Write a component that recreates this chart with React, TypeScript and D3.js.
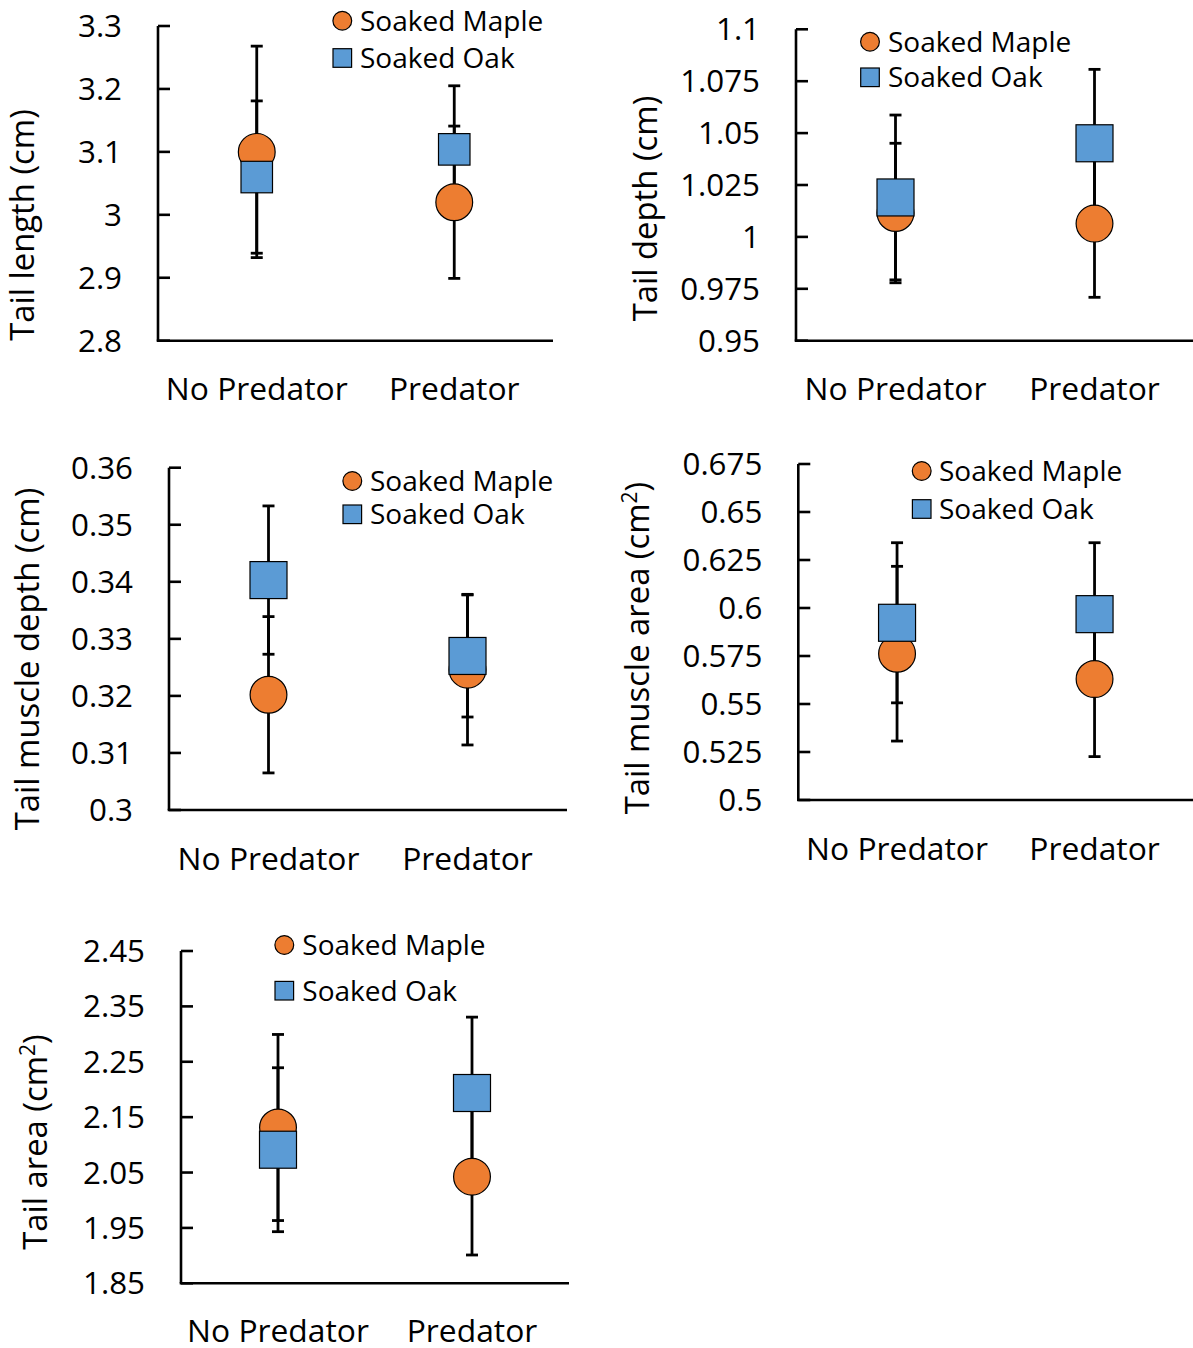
import React from "react";
import * as d3 from "d3";

// Treatment groups on the x axis
const categories = ["No Predator", "Predator"];

// Series names
const seriesMaple = "Soaked Maple";
const seriesOak = "Soaked Oak";

// Tail length (cm)
const lengthMaple = [3.1, 3.02];
const lengthMapleErr = [0.168, 0.121];
const lengthOak = [3.06, 3.104];
const lengthOakErr = [0.121, 0.101];
const lengthTicks = ["2.8", "2.9", "3", "3.1", "3.2", "3.3"];

// Tail depth (cm)
const depthMaple = [1.0115, 1.0064];
const depthMapleErr = [0.0336, 0.0355];
const depthOak = [1.019, 1.0451];
const depthOakErr = [0.0397, 0.0356];
const depthTicks = ["0.95", "0.975", "1", "1.025", "1.05", "1.075", "1.1"];

// Tail muscle depth (cm)
const muscleDepthMaple = [0.3202, 0.3246];
const muscleDepthMapleErr = [0.0137, 0.0132];
const muscleDepthOak = [0.3403, 0.327];
const muscleDepthOakErr = [0.013, 0.0107];
const muscleDepthTicks = ["0.3", "0.31", "0.32", "0.33", "0.34", "0.35", "0.36"];

// Tail muscle area (cm2)
const muscleAreaMaple = [0.5762, 0.563];
const muscleAreaMapleErr = [0.0455, 0.0404];
const muscleAreaOak = [0.5923, 0.5968];
const muscleAreaOakErr = [0.0417, 0.0372];
const muscleAreaTicks = ["0.5", "0.525", "0.55", "0.575", "0.6", "0.625", "0.65", "0.675"];

// Tail area (cm2)
const areaMaple = [2.1313, 2.0425];
const areaMapleErr = [0.168, 0.1414];
const areaOak = [2.0912, 2.1936];
const areaOakErr = [0.148, 0.137];
const areaTicks = ["1.85", "1.95", "2.05", "2.15", "2.25", "2.35", "2.45"];

const ORANGE = "#ED7D31";
const BLUE = "#5B9BD5";
const FONT = "'Open Sans', 'Noto Sans', sans-serif";

type PanelProps = {
  title: string;
  sup?: boolean;
  ticks: string[];
  maple: number[];
  mapleErr: number[];
  oak: number[];
  oakErr: number[];
  left: number;
  top: number;
  bottom: number;
  width: number;
  titleX: number;
  titleY: number;
  xLabelY: number;
  legX: number;
  legY1: number;
  legY2: number;
  legTextX: number;
  square: number;
};

function Panel(p: PanelProps) {
  const tickVals = p.ticks.map(Number);
  const y = d3
    .scaleLinear()
    .domain([d3.min(tickVals)!, d3.max(tickVals)!])
    .range([p.bottom, p.top]);
  const x = d3
    .scaleBand<string>()
    .domain(categories)
    .range([p.left, p.left + p.width])
    .paddingInner(0)
    .paddingOuter(0);
  const cx = (c: string) => (x(c) as number) + x.bandwidth() / 2;
  const r = 18.4;
  const capW = 6;

  const bars = (means: number[], errs: number[], key: string) =>
    categories.map((c, i) => {
      const xc = cx(c);
      const hi = y(means[i] + errs[i]);
      const lo = y(means[i] - errs[i]);
      return (
        <g key={key + i} stroke="#000" strokeWidth={2.8}>
          <line x1={xc} x2={xc} y1={hi} y2={lo} />
          <line x1={xc - capW} x2={xc + capW} y1={hi} y2={hi} />
          <line x1={xc - capW} x2={xc + capW} y1={lo} y2={lo} />
        </g>
      );
    });

  return (
    <g fontFamily={FONT} fill="#000">
      {/* y axis with inward ticks */}
      <line x1={p.left} x2={p.left} y1={p.top} y2={p.bottom} stroke="#000" strokeWidth={2.6} />
      {tickVals.map((v, i) => (
        <g key={"t" + i}>
          <line x1={p.left} x2={p.left + 12} y1={y(v)} y2={y(v)} stroke="#000" strokeWidth={2.6} />
          <text x={p.left - 36} y={y(v) + 11} textAnchor="end" fontSize={31.3}>
            {p.ticks[i]}
          </text>
        </g>
      ))}
      {/* x axis */}
      <line
        x1={p.left - 1.3}
        x2={p.left + p.width}
        y1={p.bottom}
        y2={p.bottom}
        stroke="#000"
        strokeWidth={2.6}
      />
      {categories.map((c) => (
        <text key={c} x={cx(c)} y={p.xLabelY} textAnchor="middle" fontSize={31.8}>
          {c}
        </text>
      ))}
      {/* y axis title */}
      <text
        transform={`translate(${p.titleX},${p.titleY}) rotate(-90)`}
        textAnchor="middle"
        fontSize={32.8}
      >
        {p.title}
        {p.sup ? (
          <>
            <tspan fontSize={21} dy={-12}>
              2
            </tspan>
            <tspan dy={12}>)</tspan>
          </>
        ) : null}
      </text>
      {/* error bars beneath markers */}
      {bars(p.maple, p.mapleErr, "m")}
      {bars(p.oak, p.oakErr, "o")}
      {categories.map((c, i) => (
        <circle
          key={"mc" + i}
          cx={cx(c)}
          cy={y(p.maple[i])}
          r={r}
          fill={ORANGE}
          stroke="#000"
          strokeWidth={1.2}
        />
      ))}
      {categories.map((c, i) => (
        <rect
          key={"os" + i}
          x={cx(c) - p.square / 2}
          y={y(p.oak[i]) - p.square / 2}
          width={p.square}
          height={p.square}
          fill={BLUE}
          stroke="#000"
          strokeWidth={1.2}
        />
      ))}
      {/* legend */}
      <circle cx={p.legX} cy={p.legY1} r={9.4} fill={ORANGE} stroke="#000" strokeWidth={1.2} />
      <text x={p.legTextX} y={p.legY1 + 10} fontSize={28}>
        {seriesMaple}
      </text>
      <rect
        x={p.legX - 9.3}
        y={p.legY2 - 9.3}
        width={18.6}
        height={18.6}
        fill={BLUE}
        stroke="#000"
        strokeWidth={1.2}
      />
      <text x={p.legTextX} y={p.legY2 + 10} fontSize={28}>
        {seriesOak}
      </text>
    </g>
  );
}

export default function App() {
  return (
    <svg
      width={1193}
      height={1348}
      viewBox="0 0 1193 1348"
      style={{ position: "absolute", left: 0, top: 0, background: "#fff" }}
    >
      <rect width={1193} height={1348} fill="#fff" />
      <Panel
        title="Tail length (cm)"
        ticks={lengthTicks}
        maple={lengthMaple}
        mapleErr={lengthMapleErr}
        oak={lengthOak}
        oakErr={lengthOakErr}
        left={158}
        top={26}
        bottom={340.7}
        width={395}
        titleX={34}
        titleY={225}
        xLabelY={400}
        legX={342.3}
        legY1={20.7}
        legY2={58}
        legTextX={360}
        square={31.5}
      />
      <Panel
        title="Tail depth (cm)"
        ticks={depthTicks}
        maple={depthMaple}
        mapleErr={depthMapleErr}
        oak={depthOak}
        oakErr={depthOakErr}
        left={796}
        top={29.3}
        bottom={340.7}
        width={398}
        titleX={657}
        titleY={208.5}
        xLabelY={400}
        legX={870}
        legY1={41.7}
        legY2={77.3}
        legTextX={888}
        square={37}
      />
      <Panel
        title="Tail muscle depth (cm)"
        ticks={muscleDepthTicks}
        maple={muscleDepthMaple}
        mapleErr={muscleDepthMapleErr}
        oak={muscleDepthOak}
        oakErr={muscleDepthOakErr}
        left={169}
        top={467.7}
        bottom={810}
        width={398}
        titleX={39}
        titleY={659}
        xLabelY={869.5}
        legX={352.3}
        legY1={481}
        legY2={514.3}
        legTextX={370}
        square={37}
      />
      <Panel
        title="Tail muscle area (cm"
        sup
        ticks={muscleAreaTicks}
        maple={muscleAreaMaple}
        mapleErr={muscleAreaMapleErr}
        oak={muscleAreaOak}
        oakErr={muscleAreaOakErr}
        left={798.3}
        top={464}
        bottom={800}
        width={395}
        titleX={649}
        titleY={648}
        xLabelY={859.5}
        legX={921.7}
        legY1={471}
        legY2={509}
        legTextX={939}
        square={37}
      />
      <Panel
        title="Tail area (cm"
        sup
        ticks={areaTicks}
        maple={areaMaple}
        mapleErr={areaMapleErr}
        oak={areaOak}
        oakErr={areaOakErr}
        left={181}
        top={951}
        bottom={1283.3}
        width={388}
        titleX={47}
        titleY={1142}
        xLabelY={1342}
        legX={284.3}
        legY1={945}
        legY2={990.7}
        legTextX={302.3}
        square={37}
      />
    </svg>
  );
}
